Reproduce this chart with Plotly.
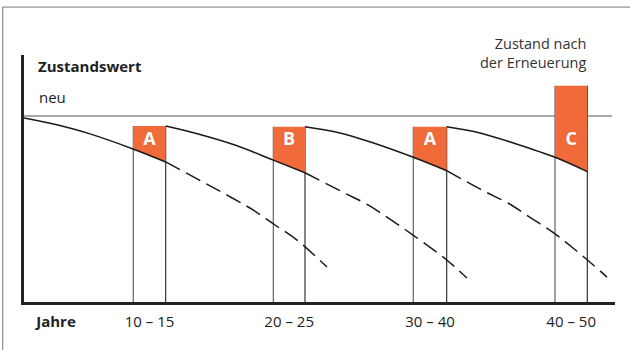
import plotly.graph_objects as go

# schematic time axis (t) and condition value in % of "neu"
c1_t = [0, 36, 66, 109, 141.7, 179, 206, 229, 251, 273, 303]
c1_v = [98.9, 94.9, 90.4, 82.3, 75.3, 64.5, 56.6, 49.5, 41.4, 33.3, 18.8]
c2_t = [141.7, 176, 211, 249.3, 281, 319, 344, 366, 389, 422.7, 443]
c2_v = [94.6, 90.1, 84.4, 76.3, 69.5, 59.0, 52.2, 44.5, 36.0, 22.6, 12.9]
c3_t = [281, 316, 351, 389.3, 422.7, 459.3, 484.3, 506, 529.3, 549.3, 569.3, 583]
c3_v = [94.2, 90.9, 85.2, 77.8, 70.6, 59.8, 53.1, 45.5, 37.3, 28.9, 19.9, 13.4]
c4_t = [422.7, 456, 491, 531, 563.3]
c4_v = [94.2, 90.9, 85.2, 77.8, 70.1]

bar_labels = ["A", "B", "A", "C"]
bar_start = [109.3, 249.3, 389.3, 531]
bar_end = [141.7, 281, 422.7, 563.3]
bar_top = [94.6, 94.2, 94.2, 116.3]
tick_labels = ["10 – 15", "20 – 25", "30 – 40", "40 – 50"]
neu_value = 100
x_end = 591

curves = [(c1_t, c1_v), (c2_t, c2_v), (c3_t, c3_v), (c4_t, c4_v)]

ORANGE = "#F06A3A"
INK = "#1a1a1a"
FONT = "Open Sans"

fig = go.Figure()

# vertical lines at bar edges
for s, e, top in zip(bar_start, bar_end, bar_top):
    for xv, col in ((s, "#555555"), (e, "#222222")):
        fig.add_trace(go.Scatter(x=[xv, xv], y=[0, top], mode="lines",
                                 line=dict(color=col, width=1.1), hoverinfo="skip"))

# "neu" line
fig.add_trace(go.Scatter(x=[0, x_end - 3], y=[neu_value, neu_value], mode="lines",
                         line=dict(color="#555555", width=1.1), hoverinfo="skip"))

# orange blocks, bottom follows the ageing curve
for i, (s, e, top) in enumerate(zip(bar_start, bar_end, bar_top)):
    t, v = curves[i]
    seg = [(a, b) for a, b in zip(t, v) if s - 0.5 <= a <= e + 0.5]
    xs = [s, e] + [p[0] for p in reversed(seg)]
    ys = [top, top] + [p[1] for p in reversed(seg)]
    fig.add_trace(go.Scatter(x=xs, y=ys, fill="toself", fillcolor=ORANGE, mode="lines",
                             line=dict(width=0, color=ORANGE), hoverinfo="skip"))

# ageing curves: solid until the renewal, dashed afterwards
for i, (t, v) in enumerate(curves):
    if i < len(bar_end):
        cut = bar_end[i]
    else:
        cut = t[-1]
    solid = [(a, b) for a, b in zip(t, v) if a <= cut + 0.5]
    dashed = [(a, b) for a, b in zip(t, v) if a >= cut - 0.5]
    fig.add_trace(go.Scatter(x=[p[0] for p in solid], y=[p[1] for p in solid], mode="lines",
                             line=dict(color=INK, width=1.5, shape="spline"), hoverinfo="skip"))
    if len(dashed) > 1:
        fig.add_trace(go.Scatter(x=[p[0] for p in dashed], y=[p[1] for p in dashed], mode="lines",
                                 line=dict(color=INK, width=1.5, shape="spline", dash="16px,7px"),
                                 hoverinfo="skip"))

# letters on the blocks
centers = [(s + e) / 2 for s, e in zip(bar_start, bar_end)]
fig.add_trace(go.Scatter(x=centers, y=[87.1] * 4, mode="text", text=bar_labels,
                         textfont=dict(family=FONT, size=18, color="white", weight="bold"),
                         hoverinfo="skip"))

fig.add_annotation(x=12.0, y=127.0, text="<b>Zustandswert</b>", showarrow=False,
                   xanchor="left", yanchor="middle",
                   font=dict(family=FONT, size=15, color="#222222"))
fig.add_annotation(x=12.5, y=110.2, text="neu", showarrow=False,
                   xanchor="left", yanchor="middle",
                   font=dict(family=FONT, size=15, color="#222222"))
fig.add_annotation(x=563.5, y=132.0, yshift=3, text="Zustand nach<br>der Erneuerung",
                   showarrow=False, xanchor="right", yanchor="middle", align="right",
                   font=dict(family=FONT, size=14.5, color="#333333"))

# outer frame (top and left edge of the figure box)
fig.add_shape(type="rect", xref="paper", yref="paper", x0=-0.036, x1=1.2, y0=-0.5, y1=1.194,
              line=dict(color="#777777", width=1), fillcolor="rgba(0,0,0,0)", layer="below")

fig.update_layout(
    width=630, height=350, autosize=False,
    margin=dict(l=24, r=15, t=55, b=48),
    paper_bgcolor="white", plot_bgcolor="white",
    showlegend=False,
    font=dict(family=FONT, size=15, color="#222222"),
)
fig.update_xaxes(range=[0, x_end], showgrid=False, zeroline=False,
                 showline=True, linecolor="#222222", linewidth=2.5,
                 tickvals=[32] + centers, ticktext=["<b>Jahre</b>"] + tick_labels,
                 ticks="", ticklabelstandoff=4, tickfont=dict(family=FONT, size=15, color="#222222"))
fig.update_yaxes(range=[0, 132.8], showgrid=False, zeroline=False,
                 showline=True, linecolor="#222222", linewidth=2.5,
                 showticklabels=False, ticks="")

fig.write_html("out.html", config={"displayModeBar": False},
               post_script="document.body.style.margin='0px';")
